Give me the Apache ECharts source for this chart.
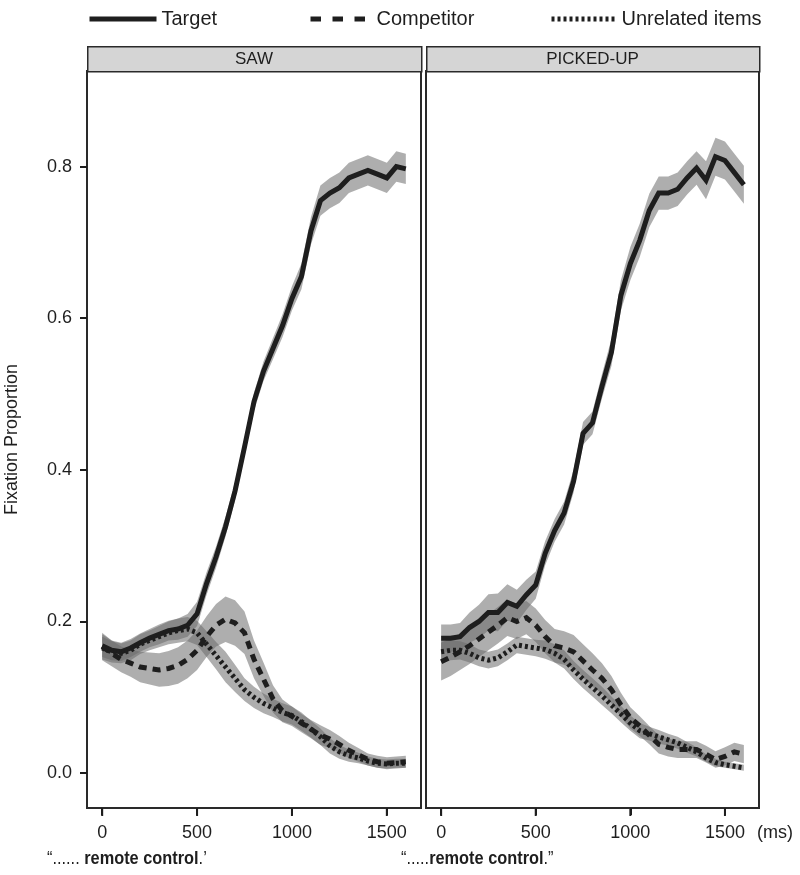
<!DOCTYPE html>
<html>
<head>
<meta charset="utf-8">
<script src="https://cdn.jsdelivr.net/npm/echarts@6/dist/echarts.min.js"></script>
<style>
  html, body { margin: 0; padding: 0; background: #fff; }
  #chart { width: 800px; height: 875px; }
</style>
</head>
<body>
<div id="chart"></div>
<script>
// time bins (ms)
const times = [0, 50, 100, 150, 200, 250, 300, 350, 400, 450, 500, 550, 600, 650, 700, 750, 800,
  850, 900, 950, 1000, 1050, 1100, 1150, 1200, 1250, 1300, 1350, 1400, 1450, 1500, 1550, 1600];
const xTicks = [0, 500, 1000, 1500];
const yTicks = [0, 0.2, 0.4, 0.6, 0.8];
const panels = ['SAW', 'PICKED-UP'];
const seriesNames = ['Target', 'Competitor', 'Unrelated items'];

// SAW panel
const sawTarget = [0.168, 0.162, 0.160, 0.165, 0.172, 0.178, 0.183, 0.188, 0.190, 0.195, 0.210, 0.250, 0.285,
  0.325, 0.372, 0.430, 0.490, 0.530, 0.560, 0.590, 0.626, 0.655, 0.715, 0.755, 0.765, 0.772, 0.785, 0.790,
  0.795, 0.790, 0.785, 0.800, 0.797];
const sawCompetitor = [0.167, 0.158, 0.150, 0.145, 0.140, 0.138, 0.136, 0.138, 0.142, 0.150, 0.162, 0.180,
  0.195, 0.203, 0.198, 0.185, 0.150, 0.124, 0.098, 0.082, 0.075, 0.066, 0.058, 0.050, 0.045, 0.038, 0.030,
  0.024, 0.018, 0.015, 0.013, 0.014, 0.015];
const sawUnrelated = [0.165, 0.160, 0.158, 0.162, 0.170, 0.175, 0.180, 0.185, 0.188, 0.190, 0.185, 0.170,
  0.155, 0.140, 0.125, 0.110, 0.100, 0.092, 0.086, 0.080, 0.076, 0.068, 0.058, 0.048, 0.036, 0.028, 0.023,
  0.020, 0.016, 0.013, 0.012, 0.013, 0.013];
// half-widths of the shaded bands
const sawTargetSe = [0.015, 0.013, 0.012, 0.012, 0.012, 0.012, 0.013, 0.013, 0.014, 0.015, 0.016, 0.015,
  0.014, 0.013, 0.012, 0.012, 0.012, 0.013, 0.014, 0.015, 0.016, 0.017, 0.018, 0.020, 0.020, 0.020, 0.020,
  0.020, 0.020, 0.020, 0.020, 0.020, 0.020];
const sawCompetitorSe = [0.018, 0.017, 0.017, 0.018, 0.020, 0.021, 0.022, 0.023, 0.024, 0.025, 0.026, 0.027,
  0.028, 0.030, 0.030, 0.028, 0.025, 0.022, 0.018, 0.015, 0.013, 0.012, 0.012, 0.013, 0.012, 0.011, 0.010,
  0.009, 0.008, 0.008, 0.008, 0.008, 0.008];
const sawUnrelatedSe = [0.015, 0.014, 0.013, 0.013, 0.013, 0.013, 0.014, 0.015, 0.016, 0.016, 0.016, 0.017,
  0.018, 0.020, 0.018, 0.015, 0.014, 0.013, 0.012, 0.012, 0.012, 0.012, 0.011, 0.011, 0.010, 0.009, 0.008,
  0.007, 0.006, 0.006, 0.006, 0.006, 0.006];

// PICKED-UP panel
const pickTarget = [0.178, 0.178, 0.180, 0.192, 0.200, 0.212, 0.212, 0.225, 0.220, 0.235, 0.248, 0.290,
  0.320, 0.343, 0.385, 0.448, 0.462, 0.510, 0.555, 0.630, 0.672, 0.703, 0.742, 0.765, 0.765, 0.770, 0.785,
  0.798, 0.782, 0.813, 0.808, 0.792, 0.776];
const pickCompetitor = [0.147, 0.153, 0.160, 0.168, 0.177, 0.186, 0.195, 0.205, 0.200, 0.205, 0.195, 0.180,
  0.168, 0.165, 0.160, 0.148, 0.136, 0.125, 0.110, 0.090, 0.073, 0.062, 0.050, 0.038, 0.034, 0.031, 0.031,
  0.031, 0.025, 0.018, 0.022, 0.028, 0.025];
const pickUnrelated = [0.160, 0.162, 0.162, 0.158, 0.152, 0.149, 0.152, 0.160, 0.169, 0.167, 0.165, 0.163,
  0.158, 0.150, 0.136, 0.124, 0.113, 0.102, 0.090, 0.078, 0.066, 0.056, 0.052, 0.048, 0.044, 0.040, 0.034,
  0.028, 0.020, 0.014, 0.011, 0.009, 0.007];
const pickTargetSe = [0.018, 0.018, 0.018, 0.020, 0.022, 0.024, 0.025, 0.024, 0.022, 0.020, 0.018, 0.016,
  0.015, 0.015, 0.015, 0.015, 0.015, 0.016, 0.018, 0.020, 0.022, 0.022, 0.022, 0.022, 0.022, 0.022, 0.022,
  0.022, 0.025, 0.025, 0.025, 0.025, 0.025];
const pickCompetitorSe = [0.025, 0.025, 0.024, 0.024, 0.024, 0.024, 0.024, 0.024, 0.023, 0.022, 0.022, 0.022,
  0.022, 0.022, 0.022, 0.022, 0.022, 0.020, 0.018, 0.016, 0.014, 0.013, 0.012, 0.012, 0.012, 0.011, 0.011,
  0.011, 0.011, 0.011, 0.012, 0.012, 0.012];
const pickUnrelatedSe = [0.014, 0.013, 0.012, 0.012, 0.011, 0.011, 0.011, 0.011, 0.011, 0.011, 0.011, 0.012,
  0.012, 0.012, 0.012, 0.012, 0.012, 0.012, 0.011, 0.011, 0.010, 0.010, 0.009, 0.009, 0.008, 0.008, 0.007,
  0.006, 0.005, 0.005, 0.004, 0.004, 0.004];

const FONT = "'Liberation Sans', Arial, sans-serif";
const INK = '#1e1e1e';
const FRAME = '#2a2a2a';
const BAND = 'rgba(106, 106, 106, 0.54)';
const lineTypes = ['solid', [8, 6], [3, 3]];
const legendTypes = ['solid', [10.5, 11.5], [3, 3]];
const X_MIN = -80, X_MAX = 1680, Y_MIN = -0.046, Y_MAX = 0.926;

const panelData = [
  { vals: [sawTarget, sawCompetitor, sawUnrelated], se: [sawTargetSe, sawCompetitorSe, sawUnrelatedSe] },
  { vals: [pickTarget, pickCompetitor, pickUnrelated], se: [pickTargetSe, pickCompetitorSe, pickUnrelatedSe] },
];

const grids = [
  { left: 87, top: 71, width: 334, height: 737 },
  { left: 426, top: 71, width: 333, height: 737 },
];

// one polygon per band: upper edge forward, lower edge back
function renderBand(params, api) {
  if (params.dataIndexInside !== 0) return null;
  const n = params.dataInsideLength;
  const upper = [], lower = [];
  for (let i = 0; i < n; i++) {
    const t = api.value(0, i);
    upper.push(api.coord([t, api.value(2, i)]));
    lower.push(api.coord([t, api.value(1, i)]));
  }
  return {
    type: 'polygon',
    shape: { points: upper.concat(lower.reverse()) },
    style: { fill: BAND },
  };
}

// outward tick marks below the panel frame
function renderXTick(params, api) {
  const p = api.coord([api.value(0), api.value(1)]);
  return {
    type: 'rect',
    shape: { x: p[0] - 1, y: p[1] + 1, width: 2, height: 7 },
    style: { fill: INK },
  };
}

const series = [];
panelData.forEach((p, g) => {
  p.vals.forEach((vals, k) => {
    const se = p.se[k];
    series.push({
      type: 'custom', xAxisIndex: g, yAxisIndex: g, silent: true, z: 1,
      renderItem: renderBand,
      encode: { x: 0, y: [1, 2] },
      data: times.map((t, i) => [t, vals[i] - se[i], vals[i] + se[i]]),
    });
  });
  p.vals.forEach((vals, k) => {
    series.push({
      name: seriesNames[k], type: 'line', xAxisIndex: g, yAxisIndex: g, symbol: 'none', z: 3,
      lineStyle: { color: INK, width: 5, type: lineTypes[k], cap: 'butt', join: 'miter' },
      itemStyle: { color: INK },
      data: times.map((t, i) => [t, vals[i]]),
    });
  });
  series.push({
    type: 'custom', xAxisIndex: g, yAxisIndex: g, silent: true, clip: false, z: 20,
    renderItem: renderXTick,
    encode: { x: 0, y: 1 },
    data: xTicks.map(t => [t, Y_MIN]),
  });
});

const xAxis = grids.map((_, g) => ({
  type: 'value', gridIndex: g, min: X_MIN, max: X_MAX,
  axisLine: { show: true, onZero: false, lineStyle: { color: FRAME, width: 2 } },
  splitLine: { show: false },
  axisTick: { show: true, inside: false, customValues: xTicks, length: 7, lineStyle: { color: INK, width: 2 } },
  axisLabel: {
    customValues: xTicks, fontSize: 18, color: INK, fontFamily: FONT, margin: 16,
    formatter: v => String(v),
  },
}));

const yAxis = grids.map((_, g) => ({
  type: 'value', gridIndex: g, min: Y_MIN, max: Y_MAX,
  axisLine: { show: false, onZero: false },
  splitLine: { show: false },
  name: g === 0 ? 'Fixation Proportion' : '',
  nameLocation: 'middle', nameGap: 66, nameRotate: 90,
  nameTextStyle: { fontSize: 18, color: INK, fontFamily: FONT },
  axisTick: { show: g === 0, customValues: yTicks, length: 7, lineStyle: { color: INK, width: 2 } },
  axisLabel: {
    show: g === 0, customValues: yTicks, fontSize: 18, color: INK, fontFamily: FONT, margin: 15,
    formatter: v => v.toFixed(1),
  },
}));

const legends = seriesNames.map((name, k) => ({
  top: 4, itemHeight: 14, itemGap: 0,
  left: [82, 303, 544][k],
  itemWidth: [67, 56, 65][k],
  itemStyle: { opacity: 0 },
  lineStyle: { width: 5, type: legendTypes[k], cap: 'butt' },
  textStyle: { fontSize: 20, color: INK, fontFamily: FONT, padding: [0, 0, 0, k === 1 ? 5 : 0] },
  data: [name],
}));

const graphic = [];
grids.forEach((gr, g) => {
  graphic.push({
    type: 'rect', left: gr.left, top: 46, z: 10,
    shape: { width: gr.width, height: 25 },
    style: { fill: '#d5d5d5', stroke: FRAME, lineWidth: 1.5 },
  });
  graphic.push({
    type: 'text', x: gr.left + gr.width / 2, y: 59, z: 11,
    style: { text: panels[g], fontSize: 17, fill: INK, fontFamily: FONT, align: 'center', verticalAlign: 'middle' },
  });
});
graphic.push({
  type: 'text', x: 757, y: 833, z: 11,
  style: { text: '(ms)', fontSize: 18, fill: INK, fontFamily: FONT, verticalAlign: 'middle' },
});
const richFoot = {
  n: { fontSize: 19, fill: INK, fontFamily: FONT },
  b: { fontSize: 19, fill: INK, fontFamily: FONT, fontWeight: 'bold' },
};
graphic.push({
  type: 'text', x: 47, y: 859, scaleX: 0.86,
  style: { text: '{n|“...... }{b|remote control}{n|.’}', verticalAlign: 'middle', rich: richFoot },
});
graphic.push({
  type: 'text', x: 401, y: 859, scaleX: 0.86,
  style: { text: '{n|“.....}{b|remote control}{n|.”}', verticalAlign: 'middle', rich: richFoot },
});

const option = {
  animation: false,
  backgroundColor: '#fff',
  grid: grids.map(gr => ({ ...gr, show: true, borderColor: FRAME, borderWidth: 2, backgroundColor: '#fff' })),
  legend: legends,
  xAxis,
  yAxis,
  series,
  graphic,
};

const chart = echarts.init(document.getElementById('chart'));
chart.setOption(option);
window.addEventListener('resize', () => chart.resize());
</script>
</body>
</html>
